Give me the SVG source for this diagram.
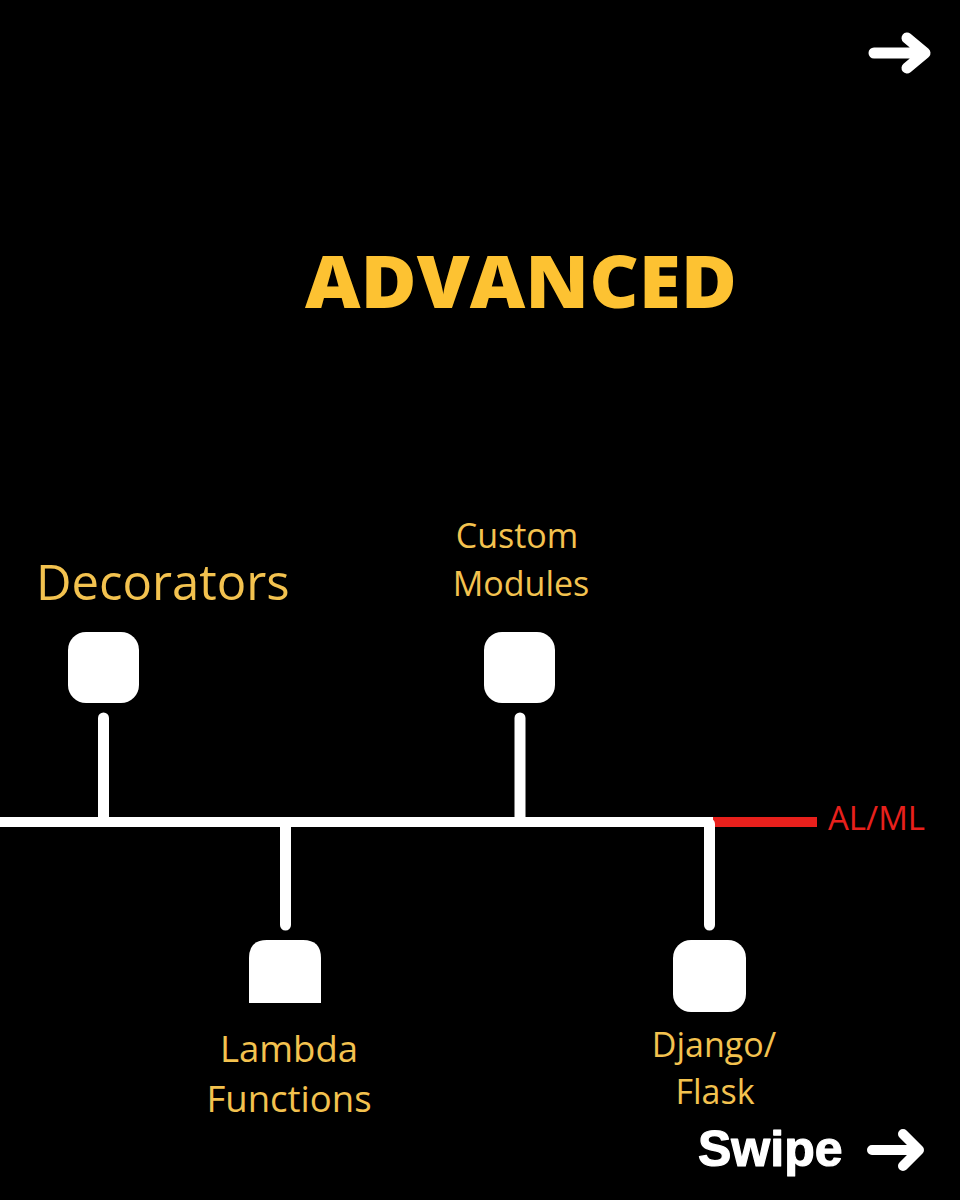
<svg xmlns="http://www.w3.org/2000/svg" width="960" height="1200" viewBox="0 0 960 1200">
<style>
.lbl{font-family:"Open Sans","Noto Sans",sans-serif;fill:#f3c24f;}
.box{fill:#ffffff;}
.stem{stroke:#ffffff;stroke-width:11;stroke-linecap:round;fill:none;}
.arr{stroke:#ffffff;stroke-linecap:round;stroke-linejoin:round;fill:none;}
</style>
<rect x="0" y="0" width="960" height="1200" fill="#000000"/>
<g id="top-arrow"><path class="arr" stroke-width="11" d="M874 53 H924 M907 38 L925 53 L907 68"/></g>
<g id="title"><text x="305" y="308" font-family="'Open Sans','Noto Sans',sans-serif" font-weight="800" font-size="72" fill="#fdc232" textLength="432" lengthAdjust="spacingAndGlyphs">ADVANCED</text></g>
<g id="connectors">
<line x1="0" y1="822" x2="713" y2="822" stroke="#ffffff" stroke-width="10"/>
<line x1="713" y1="822" x2="817" y2="822" stroke="#e8201c" stroke-width="10"/>
<line class="stem" x1="103.5" y1="718" x2="103.5" y2="820"/>
<line class="stem" x1="520" y1="718" x2="520" y2="820"/>
<line class="stem" x1="285.5" y1="824" x2="285.5" y2="925"/>
<line class="stem" x1="709.5" y1="824" x2="709.5" y2="925"/>
</g>
<g id="decorators">
<rect class="box" x="68" y="632" width="71" height="71" rx="18"/>
<text class="lbl" x="36" y="600" font-size="49">Decorators</text>
</g>
<g id="custom-modules">
<rect class="box" x="484" y="632" width="71" height="71" rx="18"/>
<text class="lbl" x="517" y="548" font-size="34" text-anchor="middle">Custom</text>
<text class="lbl" x="521" y="596" font-size="34" text-anchor="middle">Modules</text>
</g>
<g id="lambda-functions">
<path class="box" d="M249 1003 V958 Q249 940 267 940 H303 Q321 940 321 958 V1003 Z"/>
<text class="lbl" x="289" y="1062" font-size="36.5" text-anchor="middle">Lambda</text>
<text class="lbl" x="289" y="1112" font-size="36.5" text-anchor="middle">Functions</text>
</g>
<g id="django-flask">
<rect class="box" x="673" y="940" width="73" height="72" rx="18"/>
<text class="lbl" x="714" y="1057" font-size="34" text-anchor="middle">Django/</text>
<text class="lbl" x="715" y="1104" font-size="34" text-anchor="middle">Flask</text>
</g>
<g id="alml"><text x="828" y="830" font-family="'Open Sans','Noto Sans',sans-serif" font-size="33" fill="#e8201c">AL/ML</text></g>
<g id="swipe">
<text x="698" y="1166" font-family="'Liberation Sans',Arial,sans-serif" font-weight="bold" font-size="50" fill="#ffffff" stroke="#ffffff" stroke-width="1.2" stroke-linejoin="round">Swipe</text>
<path class="arr" stroke-width="10" d="M872 1150 H917 M903 1134 L919 1150 L903 1166"/>
</g>
</svg>
